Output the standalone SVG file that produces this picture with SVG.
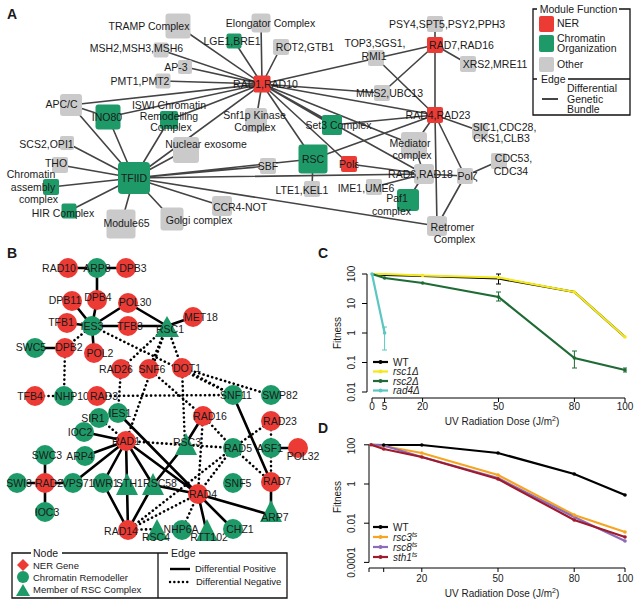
<svg xmlns="http://www.w3.org/2000/svg" width="637" height="605" viewBox="0 0 637 605">
<style>
text{font-family:"Liberation Sans",Arial,sans-serif;fill:#1a1a1a}
.t{font-size:10.5px;text-anchor:middle}
.tl{font-size:10px}
.let{font-size:14px;font-weight:bold}
.ea{stroke:#444;stroke-width:1.6;fill:none}
.red{fill:#ec3a35}.grn{fill:#1d9a68}.gry{fill:#cacaca}
.ps{stroke:#000;stroke-width:2.6;fill:none}
.ng{stroke:#000;stroke-width:2.6;fill:none;stroke-dasharray:0.1 4.4;stroke-linecap:round}
.ax{stroke:#000;stroke-width:1;fill:none}
.it{font-style:italic}
</style>
<rect width="637" height="605" fill="#fff"/>
<text class="let" x="7" y="19">A</text>
<text class="let" x="7" y="258">B</text>
<text class="let" x="318" y="258">C</text>
<text class="let" x="318" y="433">D</text>

<!-- Panel A connectors -->
<g id="edges-A" class="ea">
<path d="M262 84L178 26M262 84L261 23M262 84L234 41M262 84L281 47M262 84L161 50M262 84L185 67M262 84L163 81M262 84L71 105M262 84L108 117M262 84L169 120M262 84L256 120M262 84L134 178M262 84L313 159M262 84L349 164M262 84L332 125M262 84L414 145M262 84L435 115M262 84L382 93M262 84L435 45M262 84L424 174"/>
<path d="M134 178L67 143M134 178L60 165M134 178L51 187M134 178L69 211M134 178L121 224M134 178L172 219M134 178L222 206M134 178L71 105M134 178L108 117M134 178L169 120M134 178L186 150M134 178L268 166M134 178L313 159M134 178L424 174M134 178L437 226"/>
<path d="M435 115L435 45M435 115L480 131M435 115L376 58M435 115L313 159M435 115L332 125M435 115L465 176M435 115L437 226M435 115L414 145"/>
<path d="M435 45L435 24M435 45L468 64M435 45L382 93"/>
<path d="M424 174L349 164M424 174L374 187M424 174L408 200M424 174L414 145M424 174L465 176M465 176L499 161M465 176L437 226M313 159L312 189M71 105L108 117"/>
</g>

<!-- Panel A nodes -->
<g id="TRAMP"><rect class="gry" x="165.5" y="13.5" width="25" height="25" rx="3"/><text class="t" x="149" y="30">TRAMP Complex</text></g>
<g id="Elongator"><rect class="gry" x="251.5" y="13.5" width="19" height="19" rx="3"/><text class="t" x="270.5" y="26.5">Elongator Complex</text></g>
<g id="LGE1"><rect class="grn" x="226.5" y="33.5" width="15" height="15" rx="2"/><text class="t" x="232" y="44.7">LGE1,BRE1</text></g>
<g id="ROT2"><rect class="gry" x="273" y="39" width="16" height="16" rx="2"/><text class="t" x="305" y="50.7">ROT2,GTB1</text></g>
<g id="MSH"><rect class="gry" x="153.5" y="42.5" width="15" height="15" rx="2"/><text class="t" x="136.5" y="52">MSH2,MSH3,MSH6</text></g>
<g id="AP3"><rect class="gry" x="178" y="60" width="14" height="14" rx="2"/><text class="t" x="176" y="70.7">AP-3</text></g>
<g id="PMT"><rect class="gry" x="155.5" y="73.5" width="15" height="15" rx="2"/><text class="t" x="140" y="84.7">PMT1,PMT2</text></g>
<g id="APC"><rect class="gry" x="60" y="94" width="22" height="22" rx="3"/><text class="t" x="61.5" y="108">APC/C</text></g>
<g id="INO80"><rect class="grn" x="95.5" y="104.5" width="25" height="25" rx="3"/><text class="t" x="107" y="120.7">INO80</text></g>
<g id="ISWI"><rect class="grn" x="160" y="111" width="18" height="18" rx="2"/><text class="t" x="169" y="108.5" font-size="9.5px">ISWI Chromatin</text><text class="t" x="169" y="119.5" font-size="9.5px">Remodelling</text><text class="t" x="171" y="130.5" font-size="9.5px">Complex</text></g>
<g id="SCS2"><rect class="gry" x="60" y="136" width="14" height="14" rx="2"/><text class="t" x="46.5" y="147.5">SCS2,OPI1</text></g>
<g id="NucExo"><rect class="gry" x="173" y="137" width="26" height="26" rx="3"/><text class="t" x="206" y="148">Nuclear exosome</text></g>
<g id="THO"><rect class="gry" x="52" y="157" width="16" height="16" rx="2"/><text class="t" x="56" y="166.7">THO</text></g>
<g id="ChromAssembly"><rect class="grn" x="43" y="179" width="16" height="16" rx="2"/><text class="t" x="31" y="178">Chromatin</text><text class="t" x="33" y="190.5">assembly</text><text class="t" x="38.5" y="203">complex</text></g>
<g id="HIR"><rect class="grn" x="61.5" y="203.5" width="15" height="15" rx="2"/><text class="t" x="63" y="216.7">HIR Complex</text></g>
<g id="TFIID"><rect class="grn" x="118" y="162" width="32" height="32" rx="4"/><text class="t" x="134" y="182">TFIID</text></g>
<g id="Module65"><rect class="gry" x="106.5" y="209.5" width="29" height="29" rx="3"/><text class="t" x="126.5" y="226.7">Module65</text></g>
<g id="Golgi"><rect class="gry" x="160.5" y="207.5" width="23" height="23" rx="3"/><text class="t" x="199" y="223.7">Golgi complex</text></g>
<g id="CCR4"><rect class="gry" x="212" y="196" width="20" height="20" rx="3"/><text class="t" x="240" y="210.7">CCR4-NOT</text></g>
<g id="Snf1p"><rect class="gry" x="245" y="108" width="22" height="24" rx="3"/><text class="t" x="254.5" y="118.7">Snf1p Kinase</text><text class="t" x="255" y="131">Complex</text></g>
<g id="SBF"><rect class="gry" x="260" y="158" width="16" height="16" rx="2"/><text class="t" x="268" y="169.7">SBF</text></g>
<g id="RSC"><rect class="grn" x="298.5" y="144.5" width="29" height="29" rx="3"/><text class="t" x="313" y="162.7">RSC</text></g>
<g id="Pole"><rect class="red" x="341" y="156" width="16" height="16" rx="2"/><text class="t" x="349" y="168">Polε</text></g>
<g id="LTE1"><rect class="gry" x="304" y="181" width="16" height="16" rx="2"/><text class="t" x="302" y="193.7">LTE1,KEL1</text></g>
<g id="Set3"><rect class="grn" x="322" y="115" width="20" height="20" rx="2"/><text class="t" x="338.5" y="128.7">Set3 Complex</text></g>
<g id="RAD1RAD10"><rect class="red" x="253.5" y="75.5" width="17" height="17" rx="2"/><text class="t" x="265.5" y="88">RAD1,RAD10</text></g>
<g id="TOP3"><rect class="gry" x="368" y="50" width="16" height="16" rx="2"/><text class="t" x="375" y="47">TOP3,SGS1,</text><text class="t" x="374" y="60">RMI1</text></g>
<g id="MMS2"><rect class="gry" x="374" y="85" width="16" height="16" rx="2"/><text class="t" x="389.5" y="96.7">MMS2,UBC13</text></g>
<g id="Mediator"><rect class="gry" x="401" y="132" width="26" height="26" rx="3"/><text class="t" x="410" y="147">Mediator</text><text class="t" x="412" y="159">complex</text></g>
<g id="RAD6"><rect class="gry" x="414" y="164" width="20" height="20" rx="3"/><text class="t" x="420.5" y="177.7">RAD6,RAD18</text></g>
<g id="IME1"><rect class="gry" x="366" y="179" width="16" height="16" rx="2"/><text class="t" x="366" y="191.7">IME1,UME6</text></g>
<g id="Paf1"><rect class="grn" x="397" y="189" width="22" height="22" rx="3"/><text class="t" x="397" y="201.7">Paf1</text><text class="t" x="391.5" y="214.7">complex</text></g>
<g id="Polz"><rect class="gry" x="457" y="168" width="16" height="16" rx="2"/><text class="t" x="467.5" y="179.7">Polζ</text></g>
<g id="CDC53"><rect class="gry" x="491" y="153" width="16" height="16" rx="2"/><text class="t" x="513.5" y="161.7">CDC53,</text><text class="t" x="511" y="174.7">CDC34</text></g>
<g id="Retromer"><rect class="gry" x="427" y="216" width="20" height="20" rx="3"/><text class="t" x="452.5" y="230.7">Retromer</text><text class="t" x="454.5" y="242.7">Complex</text></g>
<g id="RAD4RAD23"><rect class="red" x="427" y="107" width="16" height="16" rx="2"/><text class="t" x="438" y="118.7">RAD4,RAD23</text></g>
<g id="RAD7RAD16"><rect class="red" x="427" y="37" width="16" height="16" rx="2"/><text class="t" x="461.5" y="48.7">RAD7,RAD16</text></g>
<g id="PSY4"><rect class="gry" x="427" y="16" width="16" height="16" rx="2"/><text class="t" x="447" y="27.7">PSY4,SPT5,PSY2,PPH3</text></g>
<g id="XRS2"><rect class="gry" x="460" y="56" width="16" height="16" rx="2"/><text class="t" x="495" y="67.7">XRS2,MRE11</text></g>
<g id="SIC1"><rect class="gry" x="472" y="123" width="16" height="16" rx="2"/><text class="t" x="504.5" y="130.5">SIC1,CDC28,</text><text class="t" x="501.5" y="141.7">CKS1,CLB3</text></g>

<!-- Panel A legend -->
<g id="legend-A">
<path d="M537 9H533V115H630V9H619M537 79H533M568 79H630" stroke="#111" stroke-width="1.3" fill="none"/>
<text class="t" x="578.5" y="13">Module Function</text>
<rect class="red" x="539" y="16" width="15" height="16" rx="2"/><text x="557" y="27" font-size="10.5">NER</text>
<rect class="grn" x="539" y="35" width="15" height="17" rx="2"/><text x="557" y="41.5" font-size="10.5">Chromatin</text><text x="557" y="52" font-size="10.5">Organization</text>
<rect class="gry" x="539" y="57" width="15" height="15" rx="2"/><text x="557" y="68" font-size="10.5">Other</text>
<text x="541" y="83" font-size="10.5">Edge</text>
<line x1="542" y1="99" x2="558" y2="99" stroke="#444" stroke-width="2"/>
<text x="567" y="92" font-size="10.5">Differential</text><text x="567" y="102.5" font-size="10.5">Genetic</text><text x="567" y="113" font-size="10.5">Bundle</text>
</g>

<!-- Panel B connectors -->
<g id="edges-B">
<path class="ps" d="M68 268L126 268M97 268L97 300M97 300L92 326M72 301L92 326M67 323L92 326M128 303L92 326M92 326L128 326M128 326L167 326M128 303L167 326M167 326L193 317M92 326L94 353M35 348L65 348M118 413L198 494M233 395L271 482M203 416L185 445M271 448L298 448M271 482L271 515M198 494L271 515M198 494L233 529M198 494L206 529M153 485L198 494M153 485L185 445M126 441L84 432M126 441L85 456M126 441L73 483M126 441L103 483M126 441L127 485M126 441L153 485M126 441L198 494M128 530L103 483M128 530L127 485M128 530L153 485M45 483L45 455M45 483L17 483M45 483L45 512M45 483L73 483"/>
<path class="ng" d="M92 326L65 348M65 348L64 396M35 396L64 396M97 396L233 395M92 326L233 395M167 326L121 369M167 326L149 369M167 326L182 368M167 326L126 441M182 368L233 395M182 368L271 395M182 368L185 445M121 369L118 413M149 369L203 416M99 418L126 441M126 441L233 448M203 416L233 448M271 421L233 448M271 421L271 448M271 448L271 482M233 448L271 482M233 448L198 494M203 416L198 494M128 530L157 529M128 530L233 448M182 530L198 494M128 530L198 494"/>
</g>

<!-- Panel B nodes -->
<g id="B-RAD10"><circle class="red" cx="68" cy="268" r="10"/><text class="t" x="59" y="271.7">RAD10</text></g>
<g id="B-ARP8"><circle class="grn" cx="97" cy="268" r="10"/><text class="t" x="97" y="271.7">ARP8</text></g>
<g id="B-DPB3"><circle class="red" cx="126" cy="268" r="10"/><text class="t" x="133" y="271.7">DPB3</text></g>
<g id="B-DPB4"><circle class="red" cx="97" cy="300" r="10"/><text class="t" x="98" y="300.7">DPB4</text></g>
<g id="B-DPB11"><circle class="red" cx="72" cy="301" r="10"/><text class="t" x="65" y="303.7">DPB11</text></g>
<g id="B-POL30"><circle class="red" cx="128" cy="303" r="10"/><text class="t" x="135" y="305.7">POL30</text></g>
<g id="B-TFB1"><circle class="red" cx="67" cy="323" r="10"/><text class="t" x="61" y="325.7">TFB1</text></g>
<g id="B-IES3"><circle class="grn" cx="92" cy="326" r="10"/><text class="t" x="92" y="329.7">IES3</text></g>
<g id="B-TFB3"><circle class="red" cx="128" cy="326" r="10"/><text class="t" x="130" y="329.7">TFB3</text></g>
<g id="B-RSC1"><path class="grn" d="M167 316L155 337H179Z"/><text class="t" x="170" y="332.7">RSC1</text></g>
<g id="B-MET18"><circle class="red" cx="193" cy="317" r="10"/><text class="t" x="201" y="320.7">MET18</text></g>
<g id="B-SWC5"><circle class="grn" cx="35" cy="348" r="10"/><text class="t" x="31" y="350.7">SWC5</text></g>
<g id="B-DPB2"><circle class="red" cx="65" cy="348" r="10"/><text class="t" x="69" y="350.7">DPB2</text></g>
<g id="B-POL2"><circle class="red" cx="94" cy="353" r="10"/><text class="t" x="100" y="356.7">POL2</text></g>
<g id="B-RAD26"><circle class="red" cx="121" cy="369" r="10"/><text class="t" x="116" y="372.7">RAD26</text></g>
<g id="B-SNF6"><circle class="red" cx="149" cy="369" r="10"/><text class="t" x="152" y="372.7">SNF6</text></g>
<g id="B-DOT1"><circle class="red" cx="182" cy="368" r="10"/><text class="t" x="187" y="371.7">DOT1</text></g>
<g id="B-TFB4"><circle class="red" cx="35" cy="396" r="10"/><text class="t" x="30" y="399.7">TFB4</text></g>
<g id="B-NHP10"><circle class="grn" cx="64" cy="396" r="10"/><text class="t" x="72" y="399.7">NHP10</text></g>
<g id="B-RAD3"><circle class="red" cx="97" cy="396" r="10"/><text class="t" x="104" y="399.7">RAD3</text></g>
<g id="B-SNF11"><circle class="grn" cx="233" cy="395" r="10"/><text class="t" x="236" y="398.7">SNF11</text></g>
<g id="B-SWP82"><circle class="grn" cx="271" cy="395" r="10"/><text class="t" x="280" y="398.7">SWP82</text></g>
<g id="B-IES1"><circle class="grn" cx="118" cy="413" r="10"/><text class="t" x="120" y="416.7">IES1</text></g>
<g id="B-SIR1"><circle class="grn" cx="99" cy="418" r="10"/><text class="t" x="93" y="421.7">SIR1</text></g>
<g id="B-RAD16"><circle class="red" cx="203" cy="416" r="10"/><text class="t" x="210" y="419.7">RAD16</text></g>
<g id="B-RAD23"><circle class="red" cx="271" cy="421" r="10"/><text class="t" x="280" y="424.7">RAD23</text></g>
<g id="B-IOC2"><circle class="grn" cx="84" cy="432" r="10"/><text class="t" x="80" y="435.7">IOC2</text></g>
<g id="B-RAD1"><circle class="red" cx="126" cy="441" r="10"/><text class="t" x="126" y="444.7">RAD1</text></g>
<g id="B-RSC3"><path class="grn" d="M186 433L175 455H197Z"/><text class="t" x="187" y="445.7">RSC3</text></g>
<g id="B-RAD5"><circle class="grn" cx="233" cy="448" r="10"/><text class="t" x="238" y="451.7">RAD5</text></g>
<g id="B-ASF1"><circle class="grn" cx="271" cy="448" r="10"/><text class="t" x="270" y="451.7">ASF1</text></g>
<g id="B-POL32"><circle class="red" cx="298" cy="448" r="10"/><text class="t" x="303" y="459.7">POL32</text></g>
<g id="B-SWC3"><circle class="grn" cx="45" cy="455" r="10"/><text class="t" x="47" y="458.7">SWC3</text></g>
<g id="B-ARP4"><circle class="grn" cx="85" cy="456" r="10"/><text class="t" x="80" y="459.7">ARP4</text></g>
<g id="B-SWI3"><circle class="grn" cx="17" cy="483" r="10"/><text class="t" x="19" y="486.7">SWI3</text></g>
<g id="B-RAD2"><circle class="red" cx="45" cy="483" r="10"/><text class="t" x="49" y="486.7">RAD2</text></g>
<g id="B-VPS71"><circle class="grn" cx="73" cy="483" r="10"/><text class="t" x="78" y="486.7">VPS71</text></g>
<g id="B-IWR1"><circle class="grn" cx="103" cy="483" r="10"/><text class="t" x="105.5" y="486.7" font-size="10px">IWR1</text></g>
<g id="B-STH1"><path class="grn" d="M127 473L116 495H138Z"/><text class="t" x="129.5" y="486.7" font-size="10px">STH1</text></g>
<g id="B-RSC58"><path class="grn" d="M153 473L142 495H164Z"/><text class="t" x="160" y="486.7">RSC58</text></g>
<g id="B-SNF5"><circle class="grn" cx="233" cy="483" r="10"/><text class="t" x="238" y="486.7">SNF5</text></g>
<g id="B-RAD7"><circle class="red" cx="271" cy="482" r="10"/><text class="t" x="277" y="484.7">RAD7</text></g>
<g id="B-RAD4"><circle class="red" cx="198" cy="494" r="10"/><text class="t" x="203" y="497.7">RAD4</text></g>
<g id="B-IOC3"><circle class="grn" cx="45" cy="512" r="10"/><text class="t" x="47" y="515.7">IOC3</text></g>
<g id="B-ARP7"><path class="grn" d="M271 500L260 522H282Z"/><text class="t" x="275" y="520.7">ARP7</text></g>
<g id="B-RAD14"><circle class="red" cx="128" cy="530" r="10"/><text class="t" x="121" y="534.7">RAD14</text></g>
<g id="B-NHP6A"><circle class="grn" cx="182" cy="530" r="10"/><text class="t" x="181" y="532.7">NHP6A</text></g>
<g id="B-RSC4"><path class="grn" d="M157 519L146 540H168Z"/><text class="t" x="156" y="540.7">RSC4</text></g>
<g id="B-RTT102"><path class="grn" d="M207 519L196 541H218Z"/><text class="t" x="209" y="540.7">RTT102</text></g>
<g id="B-CHZ1"><circle class="grn" cx="233" cy="529" r="10"/><text class="t" x="240" y="532.7">CHZ1</text></g>

<!-- Panel B legend -->
<g id="legend-B">
<path d="M31 553H12V598H287V553H199M62 553H158V598M158 553H168" stroke="#111" stroke-width="1.3" fill="none"/>
<text x="33" y="557" font-size="10.5">Node</text>
<text x="171" y="557" font-size="10.5">Edge</text>
<path class="red" d="M23 559L29 565L23 571L17 565Z"/>
<text x="33" y="568.5" font-size="9.5">NER Gene</text>
<circle class="grn" cx="23" cy="577" r="6"/>
<text x="33" y="580.5" font-size="9.5">Chromatin Remodeller</text>
<path class="grn" d="M23 584L16 596H30Z"/>
<text x="33" y="593" font-size="9.5">Member of RSC Complex</text>
<line x1="170" y1="569" x2="190" y2="569" stroke="#000" stroke-width="2.4"/>
<text x="195" y="572" font-size="9.5">Differential Positive</text>
<line x1="170" y1="582" x2="190" y2="582" class="ng" style="stroke-dasharray:0.1 4.2;stroke-width:2.4"/>
<text x="196" y="585" font-size="9.5">Differential Negative</text>
</g>

<!-- Panel C -->
<g id="chart-C">
<path class="ax" d="M367 274V392M362 274H367M362 303.5H367M362 333H367M362 362.5H367M362 392H367M372 398H625M372 398V402M384.6 398V402M422.6 398V402M498.5 398V402M574.4 398V402M625 398V402"/>
<g class="tl" text-anchor="middle">
<text transform="translate(355 274) rotate(-90)">100</text>
<text transform="translate(355 303.5) rotate(-90)">10</text>
<text transform="translate(355 333) rotate(-90)">1</text>
<text transform="translate(355 362.5) rotate(-90)">0.1</text>
<text transform="translate(355 392) rotate(-90)">0.01</text>
<text transform="translate(341 333) rotate(-90)">Fitness</text>
<text x="372" y="410">0</text><text x="384.6" y="410">5</text><text x="422.6" y="410">20</text><text x="498.5" y="410">50</text><text x="574.4" y="410">80</text><text x="625" y="410">100</text>
<text x="502" y="424.5">UV Radiation Dose (J/m<tspan font-size="7" dy="-4">2</tspan><tspan dy="4">)</tspan></text>
</g>
<g fill="none" stroke-width="2.2">
<polyline stroke="#000" points="372,274 384.6,275 422.6,276 498.5,278.5 574.4,292 625,337"/>
<path stroke="#000" stroke-width="1" d="M498.5 274V284M496 274H501M496 284H501"/>
<polyline stroke="#f2e81c" points="372,274 384.6,274 422.6,275.5 498.5,277.5 574.4,292 625,337"/>
<polyline stroke="#1e6b35" points="372,274 384.6,278 422.6,283 498.5,297 574.4,358 625,370"/>
<path stroke="#1e6b35" stroke-width="1" d="M498.5 292V301M496 292H501M496 301H501M574.4 351V368M572 351H577M572 368H577M625 368V372M623 368H627M623 372H627"/>
<polyline stroke="#5cc6c0" points="372,274 384.6,333"/>
<path stroke="#5cc6c0" stroke-width="1" d="M384.6 327V350M382 327H387M382 350H387"/>
</g>
<g>
<circle cx="372" cy="274" r="1.8" fill="#5cc6c0"/><circle cx="384.6" cy="333" r="1.8" fill="#5cc6c0"/>
<circle cx="422.6" cy="275.5" r="1.8" fill="#f2e81c"/><circle cx="498.5" cy="277.5" r="1.8" fill="#f2e81c"/><circle cx="574.4" cy="292" r="1.8" fill="#f2e81c"/><circle cx="625" cy="337" r="1.8" fill="#f2e81c"/>
<circle cx="384.6" cy="278" r="1.8" fill="#1e6b35"/><circle cx="422.6" cy="283" r="1.8" fill="#1e6b35"/><circle cx="498.5" cy="297" r="1.8" fill="#1e6b35"/><circle cx="574.4" cy="358" r="1.8" fill="#1e6b35"/><circle cx="625" cy="370" r="1.8" fill="#1e6b35"/>
</g>
<g stroke-width="2.2">
<line x1="373" y1="362" x2="388" y2="362" stroke="#000"/><circle cx="380.5" cy="362" r="2" fill="#000"/>
<line x1="373" y1="371.5" x2="388" y2="371.5" stroke="#f2e81c"/><circle cx="380.5" cy="371.5" r="2" fill="#f2e81c"/>
<line x1="373" y1="381" x2="388" y2="381" stroke="#1e6b35"/><circle cx="380.5" cy="381" r="2" fill="#1e6b35"/>
<line x1="373" y1="390.5" x2="388" y2="390.5" stroke="#5cc6c0"/><circle cx="380.5" cy="390.5" r="2" fill="#5cc6c0"/>
</g>
<g class="tl"><text x="393" y="365.5">WT</text><text class="it" x="393" y="375">rsc1Δ</text><text class="it" x="393" y="384.5">rsc2Δ</text><text class="it" x="393" y="394">rad4Δ</text></g>
</g>

<!-- Panel D -->
<g id="chart-D">
<path class="ax" d="M369 444.8V562.4M364 444.8H369M364 484H369M364 523.2H369M364 562.4H369M369 568H625M369 568V572M383.7 568V572M421.8 568V572M498 568V572M574.2 568V572M625 568V572"/>
<g class="tl" text-anchor="middle">
<text transform="translate(355 446) rotate(-90)">100</text>
<text transform="translate(355 484) rotate(-90)">1</text>
<text transform="translate(355 523.2) rotate(-90)">0.01</text>
<text transform="translate(355 562.4) rotate(-90)">0.0001</text>
<text transform="translate(341 497) rotate(-90)">Fitness</text>
<text x="421.8" y="582">20</text><text x="498" y="582">50</text><text x="574.2" y="582">80</text><text x="625" y="582">100</text>
<text x="502" y="596.5">UV Radiation Dose (J/m<tspan font-size="7" dy="-4">2</tspan><tspan dy="4">)</tspan></text>
</g>
<g fill="none" stroke-width="2.2">
<polyline stroke="#000" points="371,444.8 383.7,445 421.8,445 498,453 574.2,474 625,495"/>
<polyline stroke="#f7a520" points="371,444.8 383.7,446 421.8,453 498,475 574.2,515 625,532"/>
<polyline stroke="#8c6bb8" points="371,444.8 383.7,445.5 421.8,457 498,478 574.2,517 625,541"/>
<polyline stroke="#9e1a2c" points="371,444.8 383.7,449 421.8,457 498,479 574.2,520 625,537"/>
</g>
<g>
<circle cx="383.7" cy="445" r="1.8" fill="#000"/><circle cx="421.8" cy="445" r="1.8" fill="#000"/><circle cx="498" cy="453" r="1.8" fill="#000"/><circle cx="574.2" cy="474" r="1.8" fill="#000"/><circle cx="625" cy="495" r="1.8" fill="#000"/>
<circle cx="421.8" cy="453" r="1.8" fill="#f7a520"/><circle cx="498" cy="475" r="1.8" fill="#f7a520"/><circle cx="574.2" cy="515" r="1.8" fill="#f7a520"/><circle cx="625" cy="532" r="1.8" fill="#f7a520"/>
<circle cx="625" cy="541" r="1.8" fill="#8c6bb8"/>
<circle cx="371" cy="444.8" r="1.8" fill="#9e1a2c"/><circle cx="383.7" cy="449" r="1.8" fill="#9e1a2c"/><circle cx="421.8" cy="457" r="1.8" fill="#9e1a2c"/><circle cx="498" cy="479" r="1.8" fill="#9e1a2c"/><circle cx="574.2" cy="520" r="1.8" fill="#9e1a2c"/><circle cx="625" cy="537" r="1.8" fill="#9e1a2c"/>
</g>
<g stroke-width="2.2">
<line x1="373" y1="527" x2="388" y2="527" stroke="#000"/><circle cx="380.5" cy="527" r="2" fill="#000"/>
<line x1="373" y1="537" x2="388" y2="537" stroke="#f7a520"/><circle cx="380.5" cy="537" r="2" fill="#f7a520"/>
<line x1="373" y1="547" x2="388" y2="547" stroke="#8c6bb8"/><circle cx="380.5" cy="547" r="2" fill="#8c6bb8"/>
<line x1="373" y1="557" x2="388" y2="557" stroke="#9e1a2c"/><circle cx="380.5" cy="557" r="2" fill="#9e1a2c"/>
</g>
<g class="tl"><text x="393" y="530.5">WT</text>
<text class="it" x="393" y="540.5">rsc3<tspan font-size="7" dy="-4">ts</tspan></text>
<text class="it" x="393" y="550.5">rsc8<tspan font-size="7" dy="-4">ts</tspan></text>
<text class="it" x="393" y="560.5">sth1<tspan font-size="7" dy="-4">ts</tspan></text></g>
</g>
</svg>
